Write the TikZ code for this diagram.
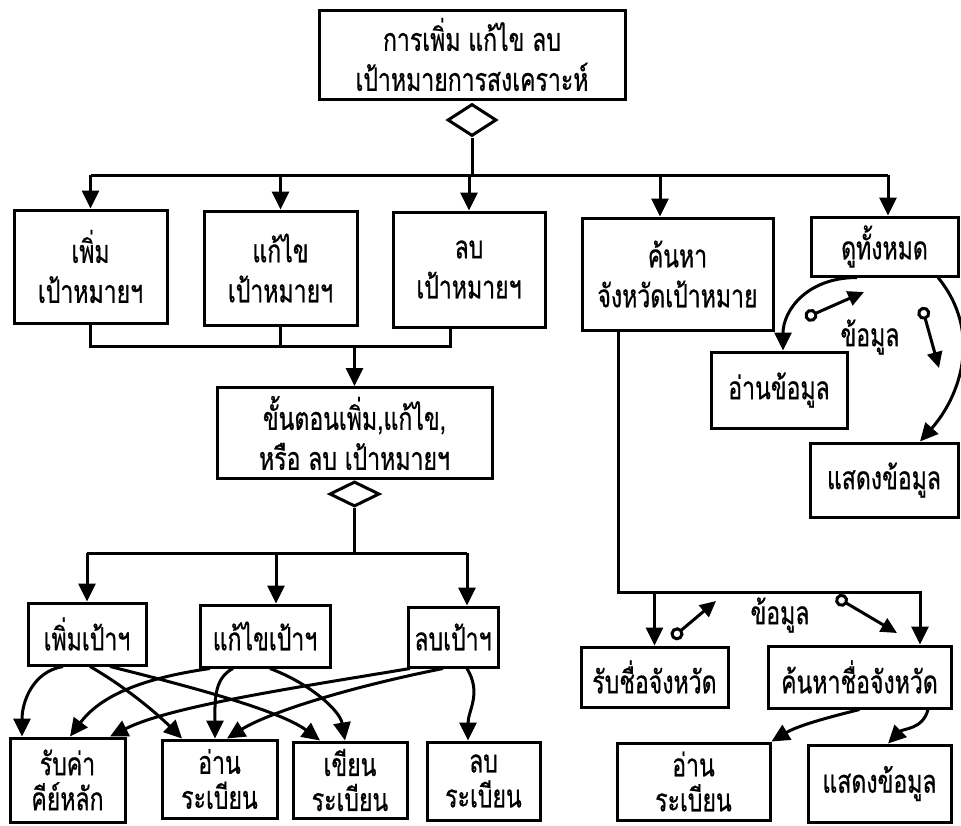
\documentclass[tikz,border=0pt]{standalone}
\usepackage{fontspec}
\newfontfamily\thaifont[Script=Thai,FakeStretch=0.72,FakeBold=0.6]{Loma}
\usetikzlibrary{arrows.meta,shapes.geometric}
\begin{document}
\begin{tikzpicture}[x=1pt,y=-1pt,
  box/.style={draw,line width=3pt,inner sep=0pt,align=center,
    font=\thaifont\fontsize{32}{40}\selectfont},
  tight/.style={font=\thaifont\fontsize{32}{35}\selectfont},
  dia/.style={draw,diamond,line width=3pt,inner sep=0pt,fill=white},
  ln/.style={line width=3pt},
  arr/.style={line width=3pt,-{Triangle[length=18pt,width=17pt]}},
  couple/.style={line width=3pt,{Circle[open,length=13pt,width=13pt]}-{Triangle[length=16pt,width=15pt]}},
  lbl/.style={font=\thaifont\fontsize{32}{40}\selectfont,inner sep=0pt}]
\path[use as bounding box,fill=white] (0,0) rectangle (961,825);

% top level
\node[box,minimum width=306,minimum height=89] (top) at (472,54.5) {การเพิ่ม แก้ไข ลบ\\เป้าหมายการสงเคราะห์};
\node[dia,minimum width=49,minimum height=32,anchor=north] (d1) at ([yshift=-2pt]top.south) {};

% second row
\node[box,minimum width=153,minimum height=113] (b1) at (90.5,266.5) {เพิ่ม\\เป้าหมายฯ};
\node[box,minimum width=153,minimum height=114] (b2) at (280.5,268) {แก้ไข\\เป้าหมายฯ};
\node[box,minimum width=152,minimum height=115] (b3) at (469,269.5) {ลบ\\เป้าหมายฯ};
\node[box,minimum width=191,minimum height=112] (b4) at (677.5,274) {ค้นหา\\จังหวัดเป้าหมาย};
\node[box,minimum width=147,minimum height=59] (b5) at (884.5,246.5) {ดูทั้งหมด};

% view-all branch
\node[box,minimum width=136,minimum height=76] (v1) at (779,390) {อ่านข้อมูล};
\node[box,minimum width=148,minimum height=74] (v2) at (884,480) {แสดงข้อมูล};

% add/edit/delete procedure
\node[box,minimum width=275,minimum height=91] (m) at (354.5,433) {ขั้นตอนเพิ่ม,แก้ไข,\\หรือ ลบ เป้าหมายฯ};
\node[dia,minimum width=50,minimum height=25,anchor=north] (d2) at (m.south) {};

\node[box,minimum width=118,minimum height=62] (p1) at (87,634) {เพิ่มเป้าฯ};
\node[box,minimum width=130,minimum height=62] (p2) at (265,636) {แก้ไขเป้าฯ};
\node[box,minimum width=90,minimum height=60] (p3) at (453,637) {ลบเป้าฯ};

\node[box,tight,minimum width=115,minimum height=84] (r1) at (67.5,780) {รับค่า\\คีย์หลัก};
\node[box,tight,minimum width=115,minimum height=78] (r2) at (219.5,779) {อ่าน\\ระเบียน};
\node[box,tight,minimum width=114,minimum height=76] (r3) at (350,780) {เขียน\\ระเบียน};
\node[box,tight,minimum width=113,minimum height=78] (r4) at (483.5,781) {ลบ\\ระเบียน};

% province search branch
\node[box,minimum width=147,minimum height=60] (s1) at (654.5,677) {รับชื่อจังหวัด};
\node[box,minimum width=183,minimum height=62] (s2) at (859.5,677) {ค้นหาชื่อจังหวัด};
\node[box,tight,minimum width=153,minimum height=77] (s3) at (693.5,781.5) {อ่าน\\ระเบียน};
\node[box,minimum width=143,minimum height=77] (s4) at (879.5,783.5) {แสดงข้อมูล};

% upper bus
\coordinate (bus1) at (0,175);
\draw[ln] (d1.south) -- (d1.south |- bus1);
\draw[ln] (b1.north |- bus1) -- ([xshift=3.5pt]b5.north |- bus1);
\draw[arr] (b1.north |- bus1) -- (b1.north);
\draw[arr] (b2.north |- bus1) -- (b2.north);
\draw[arr] (b3.north |- bus1) -- (b3.north);
\draw[arr] ([xshift=-17.5pt]b4.north |- bus1) -- ([xshift=-17.5pt]b4.north);
\draw[arr] ([xshift=3.5pt]b5.north |- bus1) -- ([xshift=3.5pt]b5.north);

% lower bus into the procedure box
\coordinate (bus2) at (0,346);
\draw[ln] (b1.south) -- (b1.south |- bus2) -- ([xshift=-19pt]b3.south |- bus2) -- ([xshift=-19pt]b3.south);
\draw[ln] (b2.south) -- (b2.south |- bus2);
\draw[arr] (m.north |- bus2) -- (m.north);

% bus into the three sub-steps
\coordinate (bus3) at (0,553);
\draw[ln] (d2.south) -- (d2.south |- bus3);
\draw[ln] (p1.north |- bus3) -- ([xshift=14pt]p3.north |- bus3);
\draw[arr] (p1.north |- bus3) -- (p1.north);
\draw[arr] ([xshift=11pt]p2.north |- bus3) -- ([xshift=11pt]p2.north);
\draw[arr] ([xshift=14pt]p3.north |- bus3) -- ([xshift=14pt]p3.north);

% sub-steps to record operations
\draw[arr] ([xshift=-24pt]p1.south) .. controls +(-30,5) and +(0,-35) .. ([xshift=-45.5pt]r1.north);
\draw[arr] ([xshift=3pt]p1.south) .. controls +(35,20) and +(-25,-25) .. ([xshift=-37.5pt]r2.north);
\draw[arr] ([xshift=23pt]p1.south) .. controls +(80,20) and +(-40,-30) .. ([xshift=-30pt]r3.north);
\draw[arr] ([xshift=-55pt]p2.south) .. controls +(-70,10) and +(30,-40) .. ([xshift=2.5pt]r1.north);
\draw[arr] ([xshift=-32pt]p2.south) .. controls +(-20,10) and +(0,-35) .. ([xshift=-4.5pt]r2.north);
\draw[arr] ([xshift=5pt]p2.south) .. controls +(40,15) and +(-5,-30) .. ([xshift=-5pt]r3.north);
\draw[arr] ([xshift=-43pt]p3.south) .. controls +(-120,20) and +(60,-30) .. ([xshift=42.5pt]r1.north);
\draw[arr] ([xshift=-10pt]p3.south) .. controls +(-100,20) and +(40,-25) .. ([xshift=7.5pt]r2.north);
\draw[arr] ([xshift=14pt]p3.south) .. controls +(15,25) and +(0,-30) .. ([xshift=-15.5pt]r4.north);

% view-all flows
\draw[arr] ([xshift=-27.5pt]b5.south) .. controls +(-50,0) and +(0,-40) .. ([xshift=4pt]v1.north);
\draw[arr] ([xshift=53.5pt]b5.south) .. controls +(45,55) and +(40,-45) .. ([xshift=36pt]v2.north);
\coordinate (c1a) at (805,318);
\coordinate (c1b) at (864,292);
\coordinate (c2a) at (922,307);
\coordinate (c2b) at (939,368);
\draw[couple] (c1a) -- (c1b);
\draw[couple] (c2a) -- (c2b);
\node[lbl] (l1) at (870,337) {ข้อมูล};

% province search flows
\coordinate (bus4) at (0,592);
\coordinate (k) at ([xshift=60.5pt]s2.north);
\draw[arr] ([xshift=-59.5pt]b4.south) |- (k |- bus4) -- (k);
\draw[arr] (s1.north |- bus4) -- (s1.north);
\coordinate (c3a) at (672,638);
\coordinate (c3b) at (716,601);
\coordinate (c4a) at (836,597);
\coordinate (c4b) at (897,633);
\draw[couple] (c3a) -- (c3b);
\draw[couple] (c4a) -- (c4b);
\node[lbl] (l2) at (780,615) {ข้อมูล};
\draw[arr] (s2.south) .. controls +(-40,10) and +(25,-15) .. (s3.north east);
\draw[arr] ([xshift=68.5pt]s2.south) .. controls +(-5,20) and +(15,-15) .. ([xshift=8.5pt]s4.north);
\end{tikzpicture}
\end{document}
